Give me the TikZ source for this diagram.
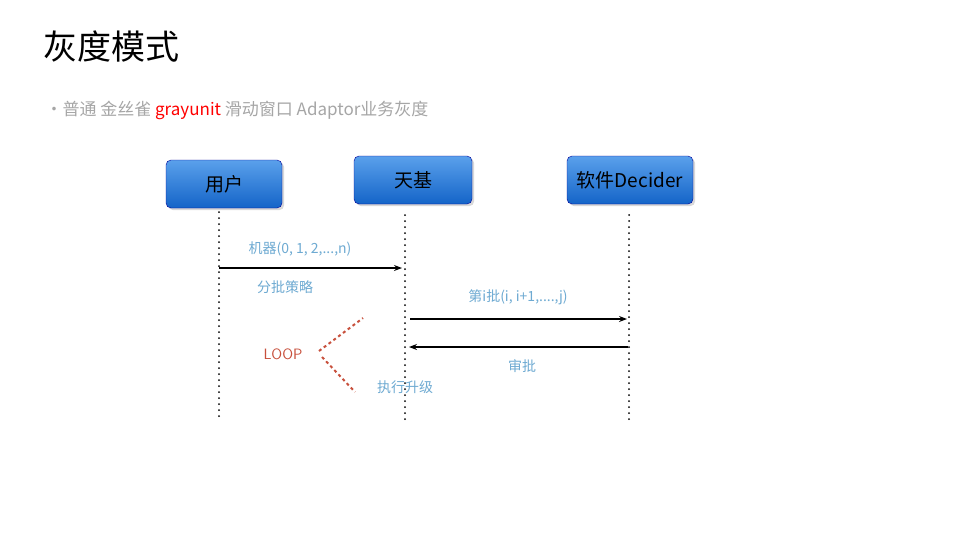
\documentclass[tikz,border=0pt]{standalone}
\usepackage{fontspec}
\newfontfamily\cjk{Noto Sans CJK SC}
\usetikzlibrary{arrows.meta,shadows}
\definecolor{lbl}{RGB}{110,170,210}
\definecolor{loopc}{RGB}{200,80,60}
\tikzset{
 actor/.style={draw=blue!60!black, rounded corners=5pt, top color={rgb,255:red,90;green,160;blue,235}, bottom color={rgb,255:red,20;green,100;blue,200}, minimum height=48pt, font=\cjk\fontsize{19}{22}\selectfont, drop shadow={opacity=0.3}, inner sep=2pt},
 life/.style={line width=2pt, dash pattern=on 0pt off 6pt, line cap=round},
 msg/.style={-{Stealth[length=8pt]}, line width=1.2pt},
 lab/.style={text=lbl, font=\cjk\fontsize{14}{16}\selectfont},
}
\begin{document}
\begin{tikzpicture}[x=1pt,y=-1pt]
\useasboundingbox (0,0) rectangle (959,539);
\fill[white] (0,0) rectangle (959,539);
\node[anchor=west, font=\cjk\fontsize{34}{38}\selectfont] (title) at (40,47) {灰度模式};
\node[anchor=west, text=gray!70, font=\cjk\fontsize{17}{20}\selectfont] (sub) at (42,110) {•普通 金丝雀 \textcolor{red}{grayunit} 滑动窗口 Adaptor业务灰度};
\node[actor, minimum width=116pt] (u) at (224,184) {用户};
\node[actor, minimum width=118pt] (t) at (413,180) {天基};
\node[actor, minimum width=126pt] (d) at (630,180) {软件Decider};
\coordinate (u1) at (219,212); \coordinate (u2) at (219,420);
\coordinate (t1) at (405,215); \coordinate (t2) at (405,420);
\coordinate (d1) at (629,215); \coordinate (d2) at (629,420);
\draw[life] (u1) -- (u2);
\draw[life] (t1) -- (t2);
\draw[life] (d1) -- (d2);
\coordinate (a1) at (219,268); \coordinate (a2) at (402,268);
\draw[msg] (a1) -- (a2);
\coordinate (b1) at (410,319); \coordinate (b2) at (627,319);
\draw[msg] (b1) -- (b2);
\coordinate (c1) at (628,347); \coordinate (c2) at (409,347);
\draw[msg] (c1) -- (c2);
\node[lab] (l1) at (300,249) {机器(0, 1, 2,...,n)};
\node[lab] (l2) at (285,287) {分批策略};
\node[lab] (l3) at (518,297) {第i批(i, i+1,....,j)};
\node[lab] (l4) at (522,366) {审批};
\node[text=loopc, font=\fontsize{15}{17}\selectfont\sffamily] (loop) at (283,354) {LOOP};
\node[lab] (l5) at (405,387) {执行升级};
\coordinate (p0) at (319,351); \coordinate (p1) at (363,318);
\coordinate (q0) at (322,357); \coordinate (q1) at (355,392);
\draw[loopc, line width=2pt, dashed] (p0) -- (p1);
\draw[loopc, line width=2pt, dashed] (q0) -- (q1);
\end{tikzpicture}
\end{document}
